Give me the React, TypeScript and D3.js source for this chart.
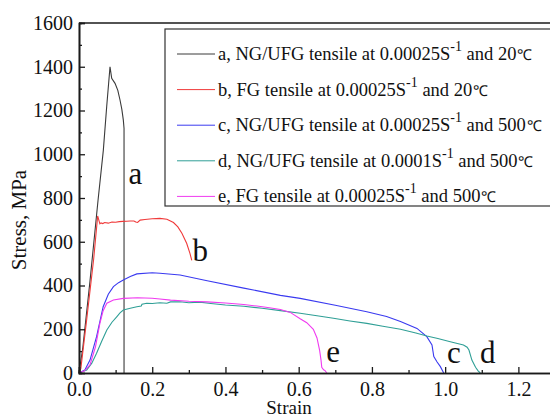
import { useEffect, useRef } from "react";
import * as d3 from "d3";

const W = 550;
const H = 419;
const MARGIN = { top: 23, right: -5, bottom: 46, left: 79 };
const FONT = "Liberation Serif, Times New Roman, serif";

// strain / stress pairs
const strainA = [0, 0.01, 0.03, 0.052, 0.0665, 0.0756, 0.0847, 0.0893, 0.0984, 0.106, 0.112, 0.117, 0.121, 0.123, 0.123];
const stressA = [0, 110, 420, 790, 1019, 1217, 1400, 1347, 1324, 1292, 1248, 1205, 1157, 1118, 0];

const strainB = [0, 0.005, 0.02, 0.04, 0.051, 0.054, 0.057, 0.06, 0.065, 0.07, 0.08, 0.09, 0.1, 0.11, 0.12, 0.13, 0.14, 0.15, 0.155, 0.16, 0.167, 0.18, 0.2, 0.221, 0.24, 0.258, 0.27, 0.281, 0.294, 0.303, 0.308];
const stressB = [0, 20, 230, 520, 718, 700, 682, 686, 683, 688, 685, 690, 689, 692, 693, 694, 695, 695, 690, 688, 699, 702, 705, 707, 703, 688, 668, 639, 593, 547, 515];

const strainC = [0, 0.016, 0.03, 0.048, 0.066, 0.08, 0.094, 0.108, 0.121, 0.14, 0.158, 0.2, 0.221, 0.276, 0.35, 0.45, 0.55, 0.604, 0.7, 0.786, 0.84, 0.878, 0.923, 0.95, 0.964, 0.969, 0.978, 0.987, 0.996];
const stressC = [0, 14, 59, 166, 303, 360, 395, 413, 425, 441, 453, 458, 456, 448, 422, 388, 355, 341, 310, 280, 258, 235, 204, 166, 128, 75, 50, 29, 0];

const strainD = [0, 0.021, 0.035, 0.048, 0.062, 0.076, 0.09, 0.103, 0.112, 0.121, 0.14, 0.158, 0.17, 0.172, 0.185, 0.2, 0.221, 0.24, 0.25, 0.276, 0.3, 0.33, 0.36, 0.4, 0.45, 0.5, 0.55, 0.604, 0.65, 0.695, 0.74, 0.786, 0.83, 0.878, 0.92, 0.95, 0.98, 1.014, 1.05, 1.06, 1.065, 1.073, 1.083, 1.09, 1.096];
const stressD = [0, 14, 45, 90, 145, 197, 232, 257, 275, 288, 296, 303, 306, 314, 319, 318, 321, 319, 325, 326, 321, 324, 318, 311, 305, 296, 285, 273, 262, 250, 238, 227, 214, 200, 183, 169, 158, 143, 128, 118, 105, 59, 26, 10, 0];

const strainE = [0, 0.015, 0.03, 0.045, 0.057, 0.066, 0.076, 0.094, 0.121, 0.16, 0.2, 0.221, 0.25, 0.3, 0.35, 0.4, 0.45, 0.486, 0.52, 0.55, 0.577, 0.604, 0.622, 0.64, 0.65, 0.657, 0.661, 0.663, 0.668, 0.672, 0.677];
const stressE = [0, 10, 37, 120, 227, 285, 319, 334, 341, 344, 342, 338, 333, 328, 325, 320, 313, 306, 298, 290, 277, 248, 230, 200, 160, 105, 59, 26, 15, 11, 0];

const seriesKeys = ["a", "b", "c", "d", "e"];
const seriesColors = ["#3a3a3a", "#f03a3a", "#3a3af0", "#2f9f96", "#f03af0"];
const seriesStrain = [strainA, strainB, strainC, strainD, strainE];
const seriesStress = [stressA, stressB, stressC, stressD, stressE];

const legendHead = [
  "a, NG/UFG tensile at 0.00025S",
  "b, FG tensile at 0.00025S",
  "c, NG/UFG tensile at 0.00025S",
  "d, NG/UFG tensile at 0.0001S",
  "e, FG tensile at 0.00025S",
];
const legendTemp = [" and 20", " and 20", " and 500", " and 500", " and 500"];

// where each curve name is written (strain, stress)
const tagStrain = [0.135, 0.31, 1.005, 1.095, 0.675];
const tagStress = [865, 510, 45, 45, 50];

const xMajor = [0, 0.2, 0.4, 0.6, 0.8, 1.0, 1.2];
const xMinor = [0.1, 0.3, 0.5, 0.7, 0.9, 1.1];
const yMajor = [0, 200, 400, 600, 800, 1000, 1200, 1400, 1600];
const yMinor = [100, 300, 500, 700, 900, 1100, 1300, 1500];

export default function App() {
  const xAxisRef = useRef<SVGGElement>(null);
  const yAxisRef = useRef<SVGGElement>(null);

  const innerW = W - MARGIN.left - MARGIN.right;
  const innerH = H - MARGIN.top - MARGIN.bottom;

  const x = d3.scaleLinear().domain([0, 1.3]).range([0, innerW]);
  const y = d3.scaleLinear().domain([0, 1600]).range([innerH, 0]);

  const line = d3
    .line<[number, number]>()
    .x((d) => x(d[0]))
    .y((d) => y(d[1]));

  useEffect(() => {
    const gx = d3.select(xAxisRef.current!);
    gx.selectAll("*").remove();
    gx.append("g").call(
      d3.axisBottom(x).tickValues(xMinor).tickSize(-3).tickFormat(() => "")
    );
    gx.append("g").call(
      d3.axisBottom(x).tickValues(xMajor).tickSize(-6).tickPadding(9).tickFormat(d3.format(".1f"))
    );
    gx.selectAll("g").attr("font-family", null).attr("font-size", null);
    gx.selectAll(".domain").attr("stroke", "#1a1a1a").attr("stroke-width", 1.6);
    gx.selectAll(".tick line").attr("stroke", "#1a1a1a").attr("stroke-width", 1.3);
    gx.selectAll("text").style("font-family", FONT).style("font-size", "20px").attr("fill", "#111");

    const gy = d3.select(yAxisRef.current!);
    gy.selectAll("*").remove();
    gy.append("g").call(
      d3.axisLeft(y).tickValues(yMinor).tickSize(-3).tickFormat(() => "")
    );
    gy.append("g").call(
      d3.axisLeft(y).tickValues(yMajor).tickSize(-6).tickPadding(6).tickFormat(d3.format("d"))
    );
    gy.selectAll("g").attr("font-family", null).attr("font-size", null);
    gy.selectAll(".domain").attr("stroke", "#1a1a1a").attr("stroke-width", 1.6);
    gy.selectAll(".tick line").attr("stroke", "#1a1a1a").attr("stroke-width", 1.3);
    gy.selectAll("text").style("font-family", FONT).style("font-size", "20px").attr("fill", "#111");
  });

  const legendX = 165 - MARGIN.left;
  const legendY = 29 - MARGIN.top;
  const rowStep = 35.6;

  return (
    <svg
      width={W}
      height={H}
      style={{ position: "absolute", left: 0, top: 0, background: "#fff", fontFamily: FONT }}
    >
      <g transform={`translate(${MARGIN.left},${MARGIN.top})`}>
        <line x1={0} x2={innerW + 10} y1={0} y2={0} stroke="#1a1a1a" strokeWidth={1.6} />

        {seriesKeys.map((k, i) => (
          <path
            key={k}
            d={line(seriesStrain[i].map((s, j) => [s, seriesStress[i][j]] as [number, number])) || ""}
            fill="none"
            stroke={seriesColors[i]}
            strokeWidth={1.1}
          />
        ))}

        <g ref={xAxisRef} transform={`translate(0,${innerH})`} />
        <g ref={yAxisRef} />

        {seriesKeys.map((k, i) => (
          <text
            key={k}
            x={x(tagStrain[i])}
            y={y(tagStress[i])}
            fontSize={31}
            fill="#111"
          >
            {k}
          </text>
        ))}

        <rect
          x={legendX}
          y={legendY}
          width={innerW}
          height={177}
          fill="#fff"
          stroke="#333"
          strokeWidth={1.2}
        />
        {seriesKeys.map((k, i) => {
          const ly = legendY + 25 + i * rowStep;
          return (
            <g key={k}>
              <line
                x1={legendX + 12}
                x2={legendX + 50}
                y1={ly}
                y2={ly}
                stroke={seriesColors[i]}
                strokeWidth={1}
              />
              <text x={legendX + 53} y={ly + 6} fontSize={18.5} fill="#111">
                {legendHead[i]}
                <tspan fontSize={14} dy={-9}>-1</tspan>
                <tspan dy={9}>{legendTemp[i]}</tspan>
                <tspan fontSize={15} dx={1}>{"\u2103"}</tspan>
              </text>
            </g>
          );
        })}

        <text
          x={innerW / 2 - 28}
          y={innerH + 41}
          textAnchor="middle"
          fontSize={19}
          fill="#111"
        >
          Strain
        </text>
        <text
          transform={`translate(${-53},${innerH / 2 + 22}) rotate(-90)`}
          textAnchor="middle"
          fontSize={21}
          fill="#111"
        >
          Stress, MPa
        </text>
      </g>
    </svg>
  );
}
